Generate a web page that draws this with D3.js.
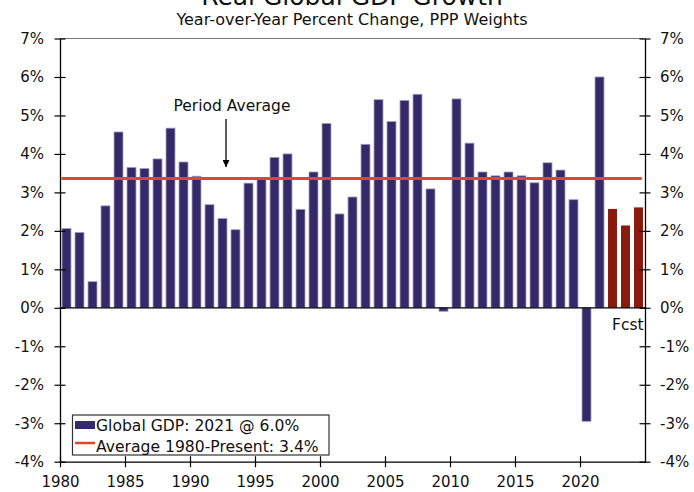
<!DOCTYPE html>
<html>
<head>
<meta charset="utf-8">
<script src="https://cdn.jsdelivr.net/npm/d3@7"></script>
<style>
  body { margin: 0; background: #fff; }
  svg text { font-family: "DejaVu Sans", sans-serif; fill: #111; }
</style>
</head>
<body>
<div id="chart"></div>
<script>
const years = d3.range(1980, 2025)
const growth = [
	2.06, 1.96, 0.68, 2.65, 4.57, 3.65, 3.62, 3.87, 4.67, 3.79,
	3.42, 2.68, 2.32, 2.03, 3.24, 3.34, 3.91, 4.00, 2.56, 3.53,
	4.79, 2.44, 2.88, 4.25, 5.41, 4.84, 5.39, 5.55, 3.09, -0.09,
	5.43, 4.28, 3.53, 3.43, 3.53, 3.43, 3.25, 3.77, 3.58, 2.81,
	-2.95, 6.00, 2.57, 2.14, 2.61
]
const forecastYears = [2022, 2023, 2024]
const periodAverage = 3.36
const yTicks = [-4, -3, -2, -1, 0, 1, 2, 3, 4, 5, 6, 7]
const xTicks = [1980, 1985, 1990, 1995, 2000, 2005, 2010, 2015, 2020]
const legendLabels = ['Global GDP: 2021 @ 6.0%', 'Average 1980-Present: 3.4%']

const width = 694
const height = 492
const margin = { top: 38.5, right: 49, bottom: 30.3, left: 60 }

const barColor = '#352a68'
const fcstColor = '#8a1a0e'
const avgColor = '#e0452d'

const data = years.map((y, i) => ({ year: y, value: growth[i], fcst: forecastYears.includes(y) }))

const svg = d3.select('#chart').append('svg')
	.attr('width', width)
	.attr('height', height)

const x = d3.scaleLinear()
	.domain([1980, 2025])
	.range([margin.left, width - margin.right])

const y = d3.scaleLinear()
	.domain([-4, 7])
	.range([height - margin.bottom, margin.top])

const step = x(1981) - x(1980)
const barW = step * 0.69

// titles (the main title is cropped at the top, as in the source image)
svg.append('text')
	.attr('x', 352).attr('y', 5)
	.attr('text-anchor', 'middle')
	.style('font-size', '25px')
	.text('Real Global GDP Growth')

svg.append('text')
	.attr('x', 352).attr('y', 25)
	.attr('text-anchor', 'middle')
	.style('font-size', '16px')
	.text('Year-over-Year Percent Change, PPP Weights')

// top border
svg.append('line')
	.attr('x1', x(1980)).attr('x2', x(2025))
	.attr('y1', y(7)).attr('y2', y(7))
	.attr('stroke', '#777').attr('stroke-width', 1.2)

// bars
svg.append('g').selectAll('rect').data(data).enter().append('rect')
	.attr('x', d => x(d.year) + (step - barW) / 2)
	.attr('width', barW)
	.attr('y', d => y(Math.max(0, d.value)))
	.attr('height', d => Math.abs(y(d.value) - y(0)))
	.attr('fill', d => d.fcst ? fcstColor : barColor)
	.attr('stroke', d => d.fcst ? 'none' : '#a49bc6')
	.attr('stroke-width', 0.8)

// zero line
svg.append('line')
	.attr('x1', x(1980)).attr('x2', x(2025))
	.attr('y1', y(0)).attr('y2', y(0))
	.attr('stroke', '#000').attr('stroke-width', 1.3)

// average line
svg.append('line')
	.attr('x1', x(1980) + 1.5).attr('x2', x(2024.75))
	.attr('y1', y(periodAverage)).attr('y2', y(periodAverage))
	.attr('stroke', avgColor).attr('stroke-width', 3)

const fmtPct = d => d + '%'

const styleAxis = (g, crossing) => {
	g.select('.domain').attr('stroke', '#000').attr('stroke-width', 1.3)
	g.selectAll('.tick line').attr('stroke', '#000').attr('stroke-width', 1.2)
	g.selectAll('.tick text')
		.style('font-family', '"DejaVu Sans", sans-serif')
		.style('font-size', '15px').attr('fill', '#111')
	crossing(g.selectAll('.tick line'))
}

// left axis
svg.append('g')
	.attr('transform', `translate(${x(1980)},0)`)
	.call(d3.axisLeft(y).tickValues(yTicks).tickFormat(fmtPct).tickSizeOuter(0))
	.call(g => styleAxis(g, l => l.attr('x1', -5.5).attr('x2', 5.5)))
	.call(g => g.selectAll('.tick text').attr('x', -16))

// right axis
svg.append('g')
	.attr('transform', `translate(${x(2025)},0)`)
	.call(d3.axisRight(y).tickValues(yTicks).tickFormat(fmtPct).tickSizeOuter(0))
	.call(g => styleAxis(g, l => l.attr('x1', -5.5).attr('x2', 5.5)))
	.call(g => g.selectAll('.tick text').attr('x', 15))

// bottom axis
svg.append('g')
	.attr('transform', `translate(0,${y(-4)})`)
	.call(d3.axisBottom(x).tickValues(xTicks).tickFormat(d3.format('d')).tickSizeOuter(0))
	.call(g => styleAxis(g, l => l.attr('y1', -5.5).attr('y2', 5.5)))
	.call(g => g.selectAll('.tick text').attr('y', 15))

// period average annotation
const arrowX = x(1992.77)
svg.append('defs').append('marker')
	.attr('id', 'arrow')
	.attr('viewBox', '0 0 10 10')
	.attr('refX', 10).attr('refY', 5)
	.attr('markerWidth', 7).attr('markerHeight', 7)
	.attr('markerUnits', 'userSpaceOnUse')
	.attr('orient', 'auto')
	.append('path').attr('d', 'M0,0 L10,5 L0,10 z').attr('fill', '#000')

svg.append('text')
	.attr('x', 232).attr('y', 111)
	.attr('text-anchor', 'middle')
	.style('font-size', '15.5px')
	.text('Period Average')

svg.append('line')
	.attr('x1', arrowX).attr('x2', arrowX)
	.attr('y1', 119).attr('y2', 167)
	.attr('stroke', '#000').attr('stroke-width', 1.3)
	.attr('marker-end', 'url(#arrow)')

// forecast label
svg.append('text')
	.attr('x', x(2024.9)).attr('y', 330)
	.attr('text-anchor', 'end')
	.style('font-size', '15.5px')
	.text('Fcst')

// legend
const legend = svg.append('g')
legend.append('rect')
	.attr('x', 72.5).attr('y', 415)
	.attr('width', 256.5).attr('height', 40)
	.attr('fill', '#fff').attr('stroke', '#333').attr('stroke-width', 1.2)
legend.append('rect')
	.attr('x', 75).attr('y', 421)
	.attr('width', 20).attr('height', 8)
	.attr('fill', barColor)
legend.append('line')
	.attr('x1', 75).attr('x2', 95)
	.attr('y1', 443).attr('y2', 443)
	.attr('stroke', avgColor).attr('stroke-width', 2.5)
legend.selectAll('text.lg').data(legendLabels).enter().append('text')
	.attr('class', 'lg')
	.attr('x', 96)
	.attr('y', (d, i) => 431 + i * 21)
	.style('font-size', '15.6px')
	.text(d => d)
</script>
</body>
</html>
